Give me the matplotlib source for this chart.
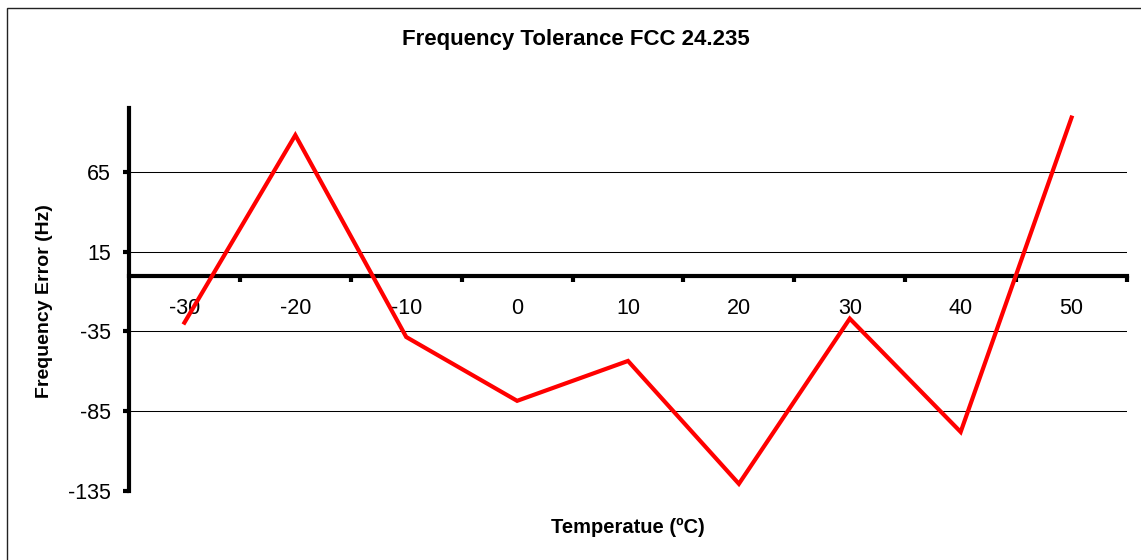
import matplotlib
matplotlib.use("Agg")
import matplotlib.pyplot as plt
from matplotlib.patches import Rectangle

# data
temps = ["-30", "-20", "-10", "0", "10", "20", "30", "40", "50"]
freq_error = [-29.5, 88, -38.5, -78.5, -53.5, -130.5, -27, -98, 99]
y_ticks = [-135, -85, -35, 15, 65]

plt.rcParams['font.family'] = ['Liberation Sans', 'DejaVu Sans']

W, H = 1141, 560
fig = plt.figure(figsize=(W / 100, H / 100), dpi=100)
fig.patch.set_facecolor('white')

# chart area frame (only left/top edges visible in the crop)
frame = Rectangle((7 / W, -0.2), 1.2, 1 - 8 / H + 0.2, transform=fig.transFigure,
                  facecolor='none', edgecolor='#222222', linewidth=1.0)
fig.patches.append(frame)

ax = fig.add_axes([129 / W, 1 - 491 / H, 998 / W, 383 / H])
xs = list(range(len(temps)))
ax.plot(xs, freq_error, color='#ff0000', linewidth=3.0, solid_joinstyle='miter',
        zorder=3, clip_on=False)

ax.set_xlim(-0.5, len(temps) - 0.5)
ax.set_ylim(-135, 105)

# gridlines
for v in y_ticks[1:]:
    ax.axhline(v, color='black', linewidth=0.75, zorder=1)

for s in ['top', 'right']:
    ax.spines[s].set_visible(False)
ax.spines['left'].set_linewidth(3.0)
ax.spines['bottom'].set_linewidth(3.0)
ax.spines['bottom'].set_position(('data', 0))
ax.spines['bottom'].set_zorder(2)

ax.set_yticks(y_ticks)
ax.set_yticklabels([str(v) for v in y_ticks])
ax.tick_params(axis='y', direction='out', length=4, width=3.0, labelsize=15.5, pad=9)

ax.set_xticks(xs)
ax.set_xticklabels(temps)
ax.set_xticks([x - 0.5 for x in xs[1:]] + [len(temps) - 0.5], minor=True)
ax.tick_params(axis='x', which='major', length=0, labelsize=15.5, pad=16)
ax.tick_params(axis='x', which='minor', direction='out', length=4, width=3.0)

fig.text(576 / W, 1 - 40 / H, "Frequency Tolerance FCC 24.235", ha='center', va='center',
         fontsize=16, fontweight='bold')
fig.text(628 / W, 1 - 527 / H, "Temperatue (ºC)", ha='center', va='center',
         fontsize=14.5, fontweight='bold')
fig.text(45 / W, 1 - 301 / H, "Frequency Error (Hz)", ha='center', va='center',
         rotation=90, fontsize=14, fontweight='bold')

fig.savefig('out.png', dpi=100, facecolor='white')
